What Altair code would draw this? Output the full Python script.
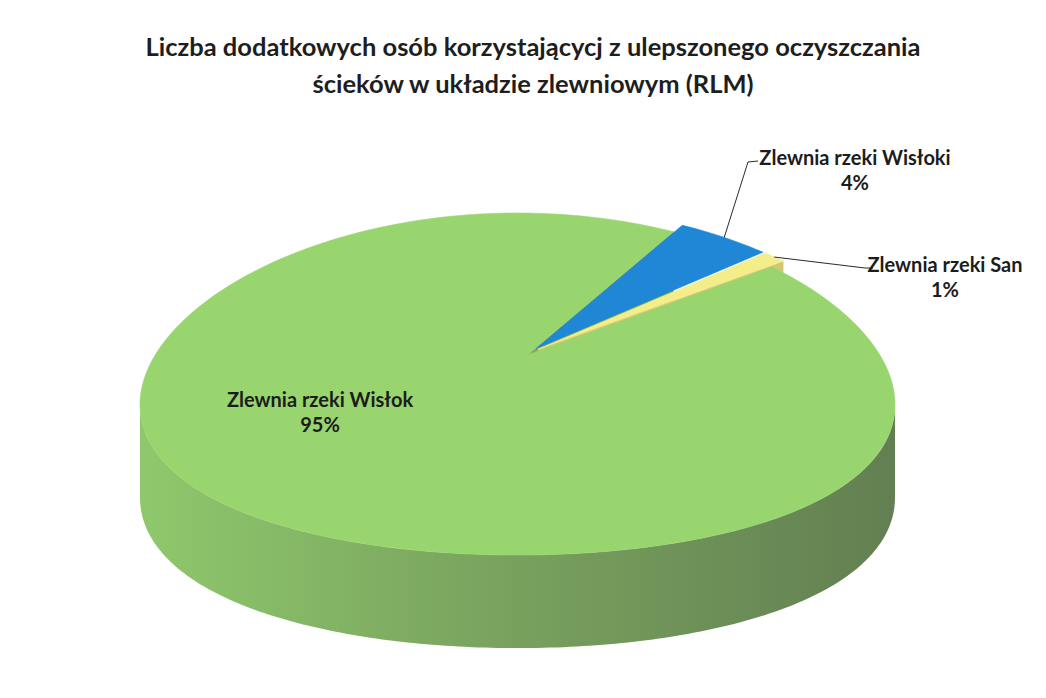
import math
import altair as alt
import pandas as pd

# ---- data ----
categories = ["Zlewnia rzeki Wisłok", "Zlewnia rzeki Wisłoki", "Zlewnia rzeki San"]
shares = [95, 4, 1]                      # percent
top_colors = ["#98d56e", "#1f87d6", "#f3ee8a"]
cut_colors = ["#7eaa5e", "#1a6fb0", "#cfc872"]
explode = [0.0, 0.045, 0.045]
title_lines = [
    "Liczba dodatkowych osób korzystającycj z ulepszonego oczyszczania",
    "ścieków w układzie zlewniowym (RLM)",
]

# ---- 3D-pie layout (unit circle, squashed by the x / y scales) ----
FIRST_ANGLE = 42.4      # degrees clockwise from 12 o'clock
APEX = (0.026, 0.17)    # perspective position of the pie centre
DEPTH = 0.544           # thickness of the pie in y units
FLAT = 0.12             # perspective flattening of the far rim
STEP = 1.0

total = float(sum(shares))
spans = []
a0 = FIRST_ANGLE
for s in shares:
    a1 = a0 + s / total * 360.0
    spans.append((a0, a1))
    a0 = a1


def offset(k):
    mid = math.radians((spans[k][0] + spans[k][1]) / 2)
    return explode[k] * math.sin(mid), explode[k] * math.cos(mid)


def rim(t, k):
    ox, oy = offset(k)
    r = math.radians(t)
    return math.sin(r) + ox, math.cos(r) - FLAT * math.sin(r) ** 2 + oy


def apex(k):
    ox, oy = offset(k)
    return APEX[0] + ox, APEX[1] + oy


def frange(a, b, step):
    out = []
    t = a
    while t < b:
        out.append(t)
        t += step
    out.append(b)
    return out


def frame(pts):
    return pd.DataFrame({"i": range(len(pts)), "u": [p[0] for p in pts], "v": [p[1] for p in pts]})


def top_face(k):
    pts = [apex(k)] + [rim(t, k) for t in frange(spans[k][0], spans[k][1], STEP)] + [apex(k)]
    return frame(pts)


def cut_face(k, t):
    p = apex(k)
    r = rim(t, k)
    return frame([p, r, (r[0], r[1] - DEPTH), (p[0], p[1] - DEPTH), p])


def front_side(k):
    ts = frange(90, 270, STEP)
    pts = [rim(t, k) for t in ts]
    pts += [(rim(t, k)[0], rim(t, k)[1] - DEPTH) for t in reversed(ts)]
    pts.append(pts[0])
    return frame(pts)


xs = alt.Scale(domain=[-1.3497, 1.3788], nice=False, zero=False)
ys = alt.Scale(domain=[-1.789, 1.614], nice=False, zero=False)
X = alt.X("u:Q", scale=xs, axis=None)
Y = alt.Y("v:Q", scale=ys, axis=None)


def poly(df, fill, stroke=True):
    kw = dict(filled=True, color=fill)
    if stroke:
        kw.update(stroke=fill, strokeWidth=0.6)
    return alt.Chart(df).mark_line(**kw).encode(x=X, y=Y, order="i:Q")


side_gradient = alt.Gradient(
    gradient="linear",
    stops=[
        alt.GradientStop(color="#8fc86c", offset=0),
        alt.GradientStop(color="#7aa45f", offset=0.45),
        alt.GradientStop(color="#627f51", offset=1),
    ],
    x1=0, x2=1, y1=0, y2=0,
)

side = poly(front_side(0), side_gradient, stroke=False)
green_cut = poly(cut_face(0, spans[0][1]), cut_colors[0])
yellow_cut = poly(cut_face(2, spans[2][1]), cut_colors[2])
tops = [poly(top_face(k), top_colors[k]) for k in range(3)]

# ---- labels and leader lines ----
label_pos = [(-0.5232, -0.1327), (0.894, 1.2807), (1.1325, 0.655)]
labels = pd.DataFrame({
    "u": [p[0] for p in label_pos],
    "v": [p[1] for p in label_pos],
    "text": [f"{c}\n{s}%" for c, s in zip(categories, shares)],
})
text_layer = alt.Chart(labels).mark_text(
    lineBreak="\n", align="center", baseline="alphabetic",
    font="Lato", fontSize=20, fontWeight="bold", color="#1c1c1c", lineHeight=25,
).encode(x=X, y=Y, text="text:N")

elbows = {1: [(0.6106, 1.2982), (0.6371, 1.3041)], 2: [(0.9205, 0.6784), (0.9417, 0.6784)]}
rows = []
for k, pts in elbows.items():
    mid = (spans[k][0] + spans[k][1]) / 2
    start = rim(mid, k)
    for i, p in enumerate([start] + pts):
        rows.append({"line": categories[k], "i": i, "u": p[0], "v": p[1]})
leaders = alt.Chart(pd.DataFrame(rows)).mark_line(color="#2a2a2a", strokeWidth=1).encode(
    x=X, y=Y, detail="line:N", order="i:Q")

chart = alt.layer(side, green_cut, yellow_cut, *tops, leaders, text_layer).properties(
    width=1030, height=582, autosize="none",
    padding={"top": 100, "left": 0, "right": 0, "bottom": 0},
    title=alt.TitleParams(
        text=title_lines, font="Lato", fontSize=25.5, fontWeight="bold", color="#1e1e1e",
        anchor="middle", lineHeight=37, offset=10, dx=10,
    ),
).configure_view(stroke=None)

chart.save("out.html", embed_options={"renderer": "svg", "actions": False})
